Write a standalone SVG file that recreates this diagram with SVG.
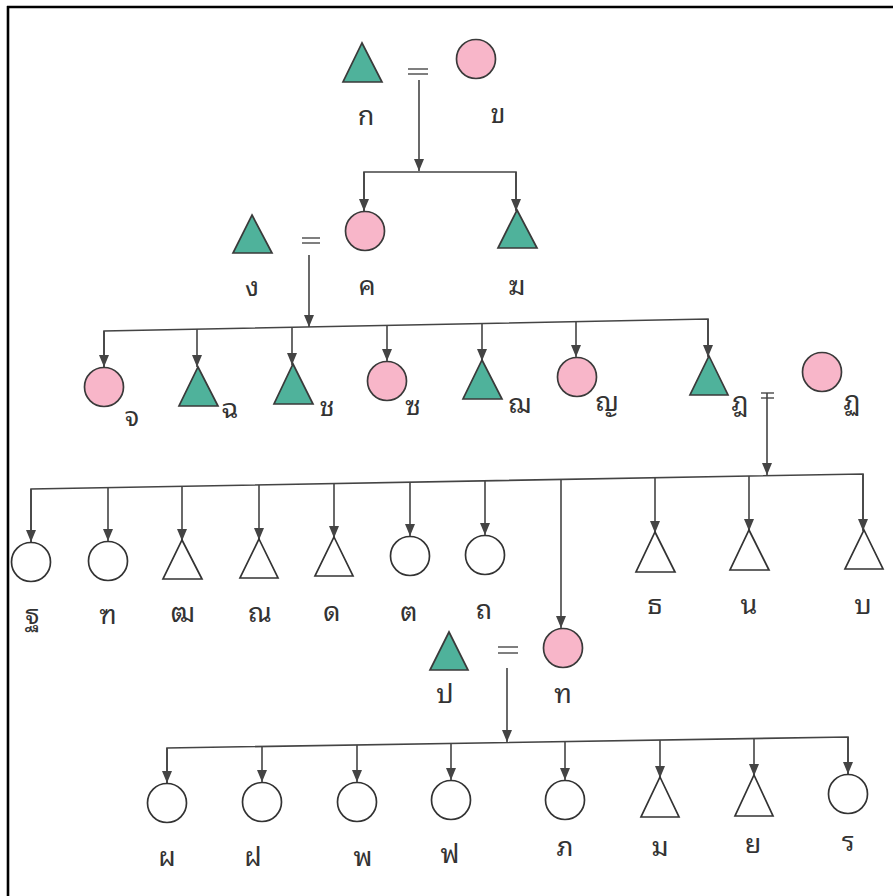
<svg xmlns="http://www.w3.org/2000/svg" width="893" height="896" viewBox="0 0 893 896">
<defs>
<style>
.m{fill:#4fb29b;stroke:#3a3a3a;stroke-width:1.7}
.f{fill:#f8b6c9;stroke:#3a3a3a;stroke-width:1.7}
.h{fill:#ffffff;stroke:#333333;stroke-width:1.7}
.c{fill:none;stroke:#444444;stroke-width:1.6}
.eq{fill:none;stroke:#555555;stroke-width:1.4}
.t{font-family:"Noto Sans Thai Looped","Noto Serif Thai","Loma","Garuda","Norasi","Tlwg Typo","Noto Sans Thai","Noto Sans",sans-serif;font-size:27px;fill:#333333;text-anchor:middle}
</style>
<marker id="ar" viewBox="0 0 12 10" refX="12" refY="5" markerWidth="12" markerHeight="10" markerUnits="userSpaceOnUse" orient="auto">
<path d="M0,0 L12,5 L0,10 z" fill="#444444"/>
</marker>
</defs>
<rect width="893" height="896" fill="#ffffff"/>
<path d="M7,7 H893 M8,6 V896" stroke="#000000" stroke-width="2.6" fill="none"/>

<g id="connectors">
<!-- generation 1 -->
<path class="eq" d="M408,69 H428 M408,74 H428"/>
<line class="c" x1="419" y1="80" x2="419" y2="171" marker-end="url(#ar)"/>
<path class="c" d="M364,211 V172 H516 V210"/>
<line class="c" x1="364" y1="172" x2="364" y2="211" marker-end="url(#ar)"/>
<line class="c" x1="516" y1="172" x2="516" y2="211" marker-end="url(#ar)"/>
<!-- generation 2 -->
<path class="eq" d="M302,238 H320 M302,243 H320"/>
<line class="c" x1="309" y1="255" x2="309" y2="327" marker-end="url(#ar)"/>
<polyline class="c" points="104,367 104,331 708,319 708,356"/>
<line class="c" x1="104" y1="331" x2="104" y2="367" marker-end="url(#ar)"/>
<line class="c" x1="197" y1="329" x2="197" y2="367" marker-end="url(#ar)"/>
<line class="c" x1="292" y1="327" x2="292" y2="365" marker-end="url(#ar)"/>
<line class="c" x1="387" y1="325" x2="387" y2="361" marker-end="url(#ar)"/>
<line class="c" x1="482" y1="323" x2="482" y2="361" marker-end="url(#ar)"/>
<line class="c" x1="576" y1="322" x2="576" y2="357" marker-end="url(#ar)"/>
<line class="c" x1="708" y1="319" x2="708" y2="357" marker-end="url(#ar)"/>
<!-- generation 3 -->
<path class="eq" d="M761,393 H774 M761,398 H774"/>
<line class="c" x1="767" y1="393" x2="767" y2="475" marker-end="url(#ar)"/>
<polyline class="c" points="31,542 31,489 863,474 863,530"/>
<line class="c" x1="31" y1="489" x2="31" y2="542" marker-end="url(#ar)"/>
<line class="c" x1="108" y1="488" x2="108" y2="541" marker-end="url(#ar)"/>
<line class="c" x1="182" y1="486" x2="182" y2="541" marker-end="url(#ar)"/>
<line class="c" x1="259" y1="485" x2="259" y2="540" marker-end="url(#ar)"/>
<line class="c" x1="334" y1="484" x2="334" y2="538" marker-end="url(#ar)"/>
<line class="c" x1="410" y1="482" x2="410" y2="536" marker-end="url(#ar)"/>
<line class="c" x1="485" y1="481" x2="485" y2="535" marker-end="url(#ar)"/>
<line class="c" x1="561" y1="480" x2="561" y2="628" marker-end="url(#ar)"/>
<line class="c" x1="655" y1="478" x2="655" y2="533" marker-end="url(#ar)"/>
<line class="c" x1="749" y1="476" x2="749" y2="531" marker-end="url(#ar)"/>
<line class="c" x1="863" y1="474" x2="863" y2="531" marker-end="url(#ar)"/>
<!-- generation 4 -->
<path class="eq" d="M498,647 H518 M498,653 H518"/>
<line class="c" x1="507" y1="668" x2="507" y2="742" marker-end="url(#ar)"/>
<polyline class="c" points="167,783 167,748 848,737 848,774"/>
<line class="c" x1="167" y1="748" x2="167" y2="783" marker-end="url(#ar)"/>
<line class="c" x1="262" y1="746" x2="262" y2="782" marker-end="url(#ar)"/>
<line class="c" x1="357" y1="745" x2="357" y2="782" marker-end="url(#ar)"/>
<line class="c" x1="451" y1="743" x2="451" y2="780" marker-end="url(#ar)"/>
<line class="c" x1="565" y1="742" x2="565" y2="780" marker-end="url(#ar)"/>
<line class="c" x1="660" y1="740" x2="660" y2="778" marker-end="url(#ar)"/>
<line class="c" x1="754" y1="738" x2="754" y2="776" marker-end="url(#ar)"/>
<line class="c" x1="848" y1="737" x2="848" y2="774" marker-end="url(#ar)"/>
</g>

<!-- generation 1 -->
<g id="n-ko"><polygon class="m" points="362,43 382,82 343,82"/><text class="t" x="366" y="125">ก</text></g>
<g id="n-kho"><circle class="f" cx="476" cy="59" r="19.5"/><text class="t" x="498" y="123">ข</text></g>
<!-- generation 2 -->
<g id="n-ngo"><polygon class="m" points="252,215 272,253 233,253"/><text class="t" x="252" y="296">ง</text></g>
<g id="n-kho-khwai"><circle class="f" cx="365" cy="231" r="19.5"/><text class="t" x="367" y="295">ค</text></g>
<g id="n-kho-rakhang"><polygon class="m" points="517,210 537,248 498,248"/><text class="t" x="517" y="295">ฆ</text></g>
<!-- generation 3 -->
<g id="n-cho"><circle class="f" cx="104" cy="387" r="19.5"/><text class="t" x="132" y="426">จ</text></g>
<g id="n-chho"><polygon class="m" points="198,367 218,406 179,406"/><text class="t" x="230" y="418">ฉ</text></g>
<g id="n-cho-chang"><polygon class="m" points="293,364 313,404 274,404"/><text class="t" x="327" y="416">ช</text></g>
<g id="n-so"><circle class="f" cx="387" cy="381" r="19.5"/><text class="t" x="413" y="415">ซ</text></g>
<g id="n-chho-choe"><polygon class="m" points="482,360 502,399 463,399"/><text class="t" x="520" y="413">ฌ</text></g>
<g id="n-yo"><circle class="f" cx="577" cy="377" r="19.5"/><text class="t" x="607" y="411">ญ</text></g>
<g id="n-do-chada"><polygon class="m" points="709,356 728,395 690,395"/><text class="t" x="740" y="411">ฎ</text></g>
<g id="n-to-patak"><circle class="f" cx="822" cy="372" r="19.5"/><text class="t" x="852" y="410">ฏ</text></g>
<!-- generation 4 -->
<g id="n-tho-than"><circle class="h" cx="31" cy="562" r="19.5"/><text class="t" x="32" y="624">ฐ</text></g>
<g id="n-tho-montho"><circle class="h" cx="108" cy="561" r="19.5"/><text class="t" x="108" y="624">ฑ</text></g>
<g id="n-tho-phuthao"><polygon class="h" points="182,540 202,579 163,579"/><text class="t" x="183" y="622">ฒ</text></g>
<g id="n-no-nen"><polygon class="h" points="259,539 278,578 240,578"/><text class="t" x="260" y="622">ณ</text></g>
<g id="n-do-dek"><polygon class="h" points="334,537 353,576 315,576"/><text class="t" x="332" y="621">ด</text></g>
<g id="n-to-tao"><circle class="h" cx="410" cy="556" r="19.5"/><text class="t" x="409" y="621">ต</text></g>
<g id="n-tho-thung"><circle class="h" cx="485" cy="555" r="19.5"/><text class="t" x="484" y="619">ถ</text></g>
<g id="n-tho-thong"><circle class="f" cx="563" cy="648" r="19.5"/><text class="t" x="563" y="703">ท</text></g>
<g id="n-tho-thong2"><polygon class="h" points="655,532 675,572 636,572"/><text class="t" x="655" y="614">ธ</text></g>
<g id="n-no-nu"><polygon class="h" points="749,530 769,570 730,570"/><text class="t" x="749" y="614">น</text></g>
<g id="n-bo"><polygon class="h" points="864,530 883,569 845,569"/><text class="t" x="863" y="614">บ</text></g>
<g id="n-po"><polygon class="m" points="449,632 468,670 430,670"/><text class="t" x="445" y="703">ป</text></g>
<!-- generation 5 -->
<g id="n-pho-phueng"><circle class="h" cx="167" cy="803" r="19.5"/><text class="t" x="167" y="866">ผ</text></g>
<g id="n-fo-fa"><circle class="h" cx="262" cy="802" r="19.5"/><text class="t" x="253" y="866">ฝ</text></g>
<g id="n-pho-phan"><circle class="h" cx="357" cy="802" r="19.5"/><text class="t" x="363" y="866">พ</text></g>
<g id="n-fo-fan"><circle class="h" cx="451" cy="800" r="19.5"/><text class="t" x="450" y="863">ฟ</text></g>
<g id="n-pho-samphao"><circle class="h" cx="565" cy="800" r="19.5"/><text class="t" x="565" y="856">ภ</text></g>
<g id="n-mo"><polygon class="h" points="660,777 679,817 641,817"/><text class="t" x="660" y="856">ม</text></g>
<g id="n-yo-yak"><polygon class="h" points="754,775 773,816 735,816"/><text class="t" x="753" y="853">ย</text></g>
<g id="n-ro"><circle class="h" cx="848" cy="794" r="19.5"/><text class="t" x="848" y="851">ร</text></g>
</svg>
